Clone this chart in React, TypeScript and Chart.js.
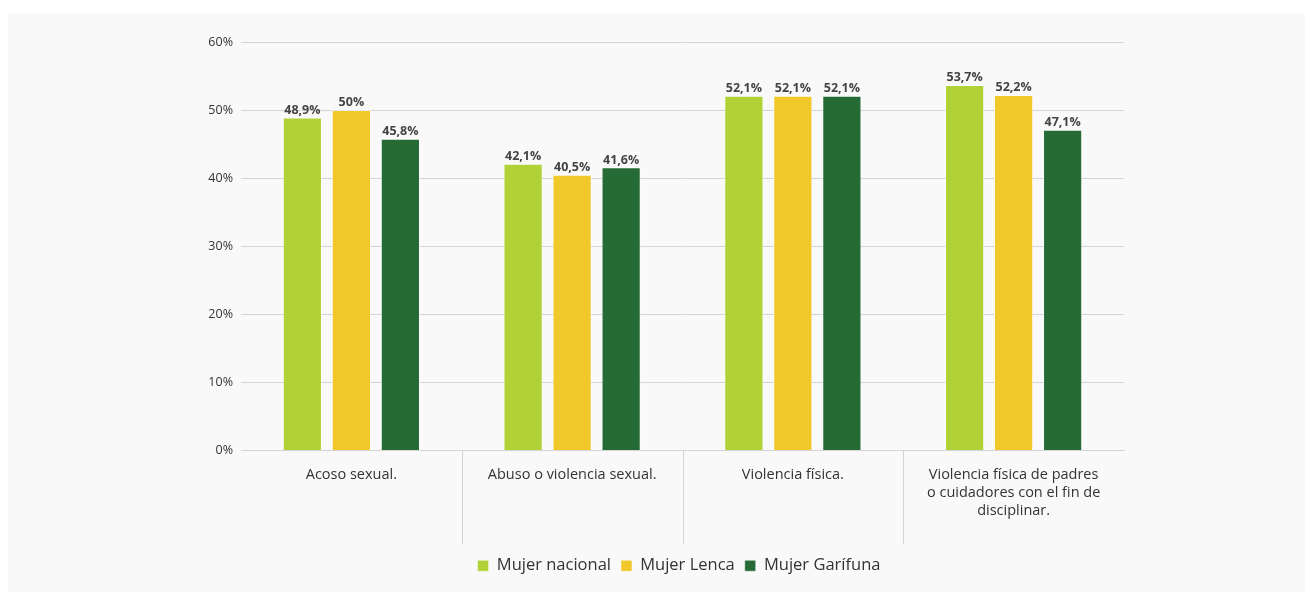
import React, { useEffect, useRef } from "react";
import { Chart, registerables } from "chart.js";

Chart.register(...registerables);

const categories: (string | string[])[] = [
  "Acoso sexual.",
  "Abuso o violencia sexual.",
  "Violencia física.",
  ["Violencia física de padres", "o cuidadores con el fin de", "disciplinar."],
];
const seriesNames = ["Mujer nacional", "Mujer Lenca", "Mujer Garífuna"];
const mujerNacional = [48.9, 42.1, 52.1, 53.7];
const mujerLenca = [50, 40.5, 52.1, 52.2];
const mujerGarifuna = [45.8, 41.6, 52.1, 47.1];
const yTicks = [0, 10, 20, 30, 40, 50, 60];
const colors = ["#b0d236", "#f0c82a", "#266b36"];

const FONT = "'Open Sans', 'Noto Sans', sans-serif";

const fmt = (v: number) => String(v).replace(".", ",") + "%";

const dataLabelPlugin = {
  id: "dataLabels",
  afterDatasetsDraw(chart: any) {
    const ctx = chart.ctx;
    ctx.save();
    ctx.font = `bold 12.5px ${FONT}`;
    ctx.fillStyle = "#444444";
    ctx.textAlign = "center";
    ctx.textBaseline = "bottom";
    chart.data.datasets.forEach((ds: any, di: number) => {
      const meta = chart.getDatasetMeta(di);
      meta.data.forEach((bar: any, i: number) => {
        ctx.fillText(fmt(ds.data[i]), bar.x, bar.y - 1);
      });
    });
    ctx.restore();
  },
};

const dividerPlugin = {
  id: "dividers",
  afterDraw(chart: any) {
    const x = chart.scales.x;
    const ctx = chart.ctx;
    const bottom = chart.chartArea.bottom;
    ctx.save();
    ctx.strokeStyle = "#d4d4d4";
    ctx.lineWidth = 1;
    for (let i = 1; i < categories.length; i++) {
      const px = Math.round((x.getPixelForTick(i - 1) + x.getPixelForTick(i)) / 2) + 0.5;
      ctx.beginPath();
      ctx.moveTo(px, bottom);
      ctx.lineTo(px, bottom + 94);
      ctx.stroke();
    }
    ctx.restore();
  },
};

const legendShiftPlugin = {
  id: "legendShift",
  afterLayout(chart: any) {
    const lg = chart.legend;
    if (!lg) return;
    const center = 676;
    const half = 600;
    lg.left = center - half - 5;
    lg.right = center + half - 5;
  },
};

export default function App() {
  const ref = useRef<HTMLCanvasElement>(null);
  useEffect(() => {
    if (!ref.current) return;
    const seriesData = [mujerNacional, mujerLenca, mujerGarifuna];
    const chart = new Chart(ref.current, {
      type: "bar",
      data: {
        labels: categories,
        datasets: seriesNames.map((name, i) => ({
          label: name,
          data: seriesData[i],
          backgroundColor: colors[i],
          borderColor: "rgba(255,255,255,0.5)",
          borderWidth: 1,
          barPercentage: 0.8,
          categoryPercentage: 0.666,
        })),
      },
      options: {
        animation: false,
        responsive: true,
        maintainAspectRatio: false,
        layout: { padding: { top: 28, right: 181, bottom: 8, left: 0 } },
        scales: {
          x: {
            grid: { display: false },
            border: { display: true, color: "#d4d4d4" },
            ticks: {
              color: "#333333",
              font: { family: FONT, size: 14.5, lineHeight: 1.22 },
              padding: 8,
              maxRotation: 0,
              autoSkip: false,
            },
            afterFit: (s: any) => {
              s.height = 97;
            },
          },
          y: {
            min: 0,
            max: 60,
            afterBuildTicks: (s: any) => {
              s.ticks = yTicks.map((v) => ({ value: v }));
            },
            grid: { color: "#d4d4d4", drawTicks: false },
            border: { display: false },
            ticks: {
              color: "#333333",
              font: { family: FONT, size: 12.5 },
              padding: 8,
              callback: (v: any) => v + "%",
            },
            afterFit: (s: any) => {
              s.width = 233;
            },
          },
        },
        plugins: {
          legend: {
            position: "bottom",
            labels: {
              boxWidth: 11,
              boxHeight: 11,
              color: "#333333",
              font: { family: FONT, size: 16.5 },
              padding: 10,
            },
          },
          tooltip: { enabled: false },
        },
      },
      plugins: [dataLabelPlugin, dividerPlugin, legendShiftPlugin],
    } as any);
    return () => chart.destroy();
  }, []);
  return (
    <div style={{ marginTop: 6, height: 578, background: "#f9f9f9", position: "relative" }}>
      <canvas ref={ref} />
    </div>
  );
}
